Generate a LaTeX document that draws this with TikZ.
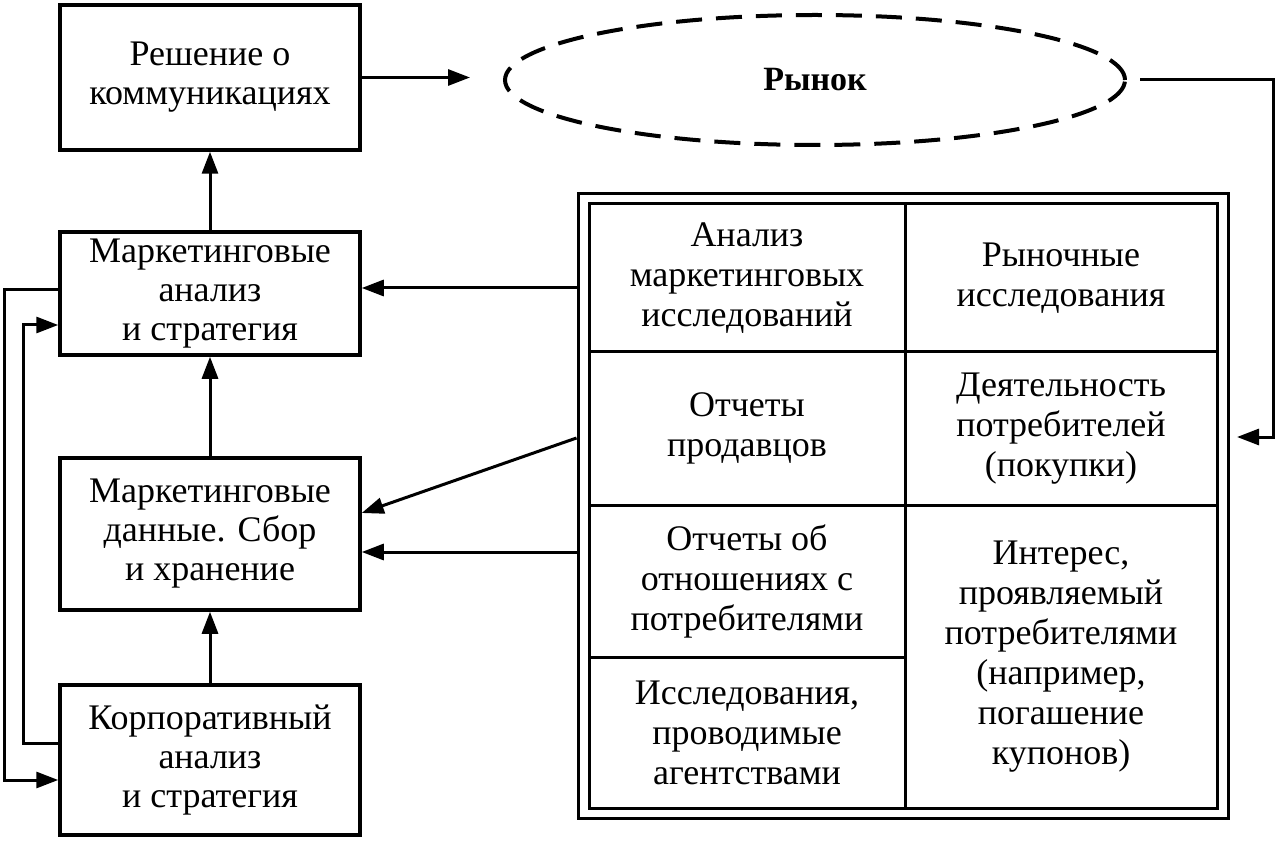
\documentclass[tikz,border=0pt]{standalone}
\usepackage{fontspec}
\setmainfont{Liberation Serif}
\usetikzlibrary{arrows.meta,shapes.geometric}
\begin{document}
\begin{tikzpicture}[x=1pt,y=-1pt,
    box/.style={draw, line width=3.5pt, minimum width=300pt, align=center,
      inner sep=0pt, font=\fontsize{36}{39}\selectfont},
    cell/.style={draw, line width=3pt, align=center, inner sep=0pt,
      font=\fontsize{36}{40}\selectfont},
    arr/.style={-{Triangle[length=22pt,width=16pt]}, line width=3pt}]
    \useasboundingbox (0,0) rectangle (1280,842);
    \node[box, minimum height=145pt] (decide) at (210,77.5) {Решение о\\коммуникациях};
    \node[box, minimum height=123pt] (strat) at (210,293.5) {Маркетинговые\\анализ\\и стратегия};
    \node[box, minimum height=152pt] (data) at (210,534) {Маркетинговые\\данные. Сбор\\и хранение};
    \node[box, minimum height=150pt] (corp) at (210,760) {Корпоративный\\анализ\\и стратегия};
    \node[draw, ellipse, dashed, dash pattern=on 26pt off 14pt, line width=4pt,
      minimum width=620pt, minimum height=130pt,
      font=\bfseries\fontsize{34}{40}\selectfont] (market) at (815,80) {Рынок};
    \node[draw, line width=3pt, minimum width=650pt, minimum height=624pt] (frame) at (903,506) {};
    \node[draw, line width=3pt, minimum width=628pt, minimum height=604pt] (inner) at (903,506) {};
    \node[cell, minimum width=316pt, minimum height=148pt] (c11) at (747,278) {Анализ\\маркетинговых\\исследований};
    \node[cell, minimum width=316pt, minimum height=153pt] (c21) at (747,428.5) {Отчеты\\продавцов};
    \node[cell, minimum width=316pt, minimum height=152pt] (c31) at (747,581) {Отчеты об\\отношениях с\\потребителями};
    \node[cell, minimum width=316pt, minimum height=151pt] (c41) at (747,732.5) {Исследования,\\проводимые\\агентствами};
    \node[cell, minimum width=312pt, minimum height=148pt] (c12) at (1061,278) {Рыночные\\исследования};
    \node[cell, minimum width=312pt, minimum height=153pt] (c22) at (1061,428.5) {Деятельность\\потребителей\\(покупки)};
    \node[cell, minimum width=312pt, minimum height=303pt] (c32) at (1061,656.5) {Интерес,\\проявляемый\\потребителями\\(например,\\погашение\\купонов)};
    \coordinate (toMarket) at (470,77.5);
    \coordinate (fromMarket) at (1140,80);
    \coordinate (toTable) at (1237,437);
    % main chain
    \draw[arr] (strat.north) -- (decide.south);
    \draw[arr] (data.north) -- (strat.south);
    \draw[arr] (corp.north) -- (data.south);
    \draw[arr] (decide.east) -- (toMarket);
    \draw[arr] (fromMarket) -- (1273,80) |- (toTable);
    % from the table
    \draw[arr] (frame.west |- 0,288) -- (strat.east |- 0,288);
    \draw[arr] (frame.west |- 0,438) -- (data.east |- 0,513);
    \draw[arr] (frame.west |- 0,552) -- (data.east |- 0,552);
    % loops on the left
    \draw[arr] (strat.west |- 0,290) -- (4,290) |- (corp.west |- 0,780);
    \draw[arr] (corp.west |- 0,743) -- (23,743) |- (strat.west |- 0,325);
\end{tikzpicture}
\end{document}
